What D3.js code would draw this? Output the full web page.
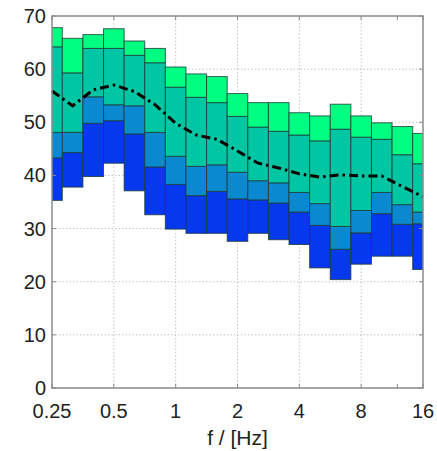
<!DOCTYPE html>
<html>
<head>
<meta charset="utf-8">
<script src="https://cdn.jsdelivr.net/npm/d3@7"></script>
<style>
  body { margin: 0; background: #fff; }
  text { font-family: "Liberation Sans", Arial, sans-serif; fill: #222; }
</style>
</head>
<body>
<svg id="chart" width="437" height="451"></svg>
<script>
// third-octave bin index k -> centre frequency 0.25 * 2^(k/3)
var binIndex = d3.range(19);
// band boundaries per bin (bottom .. top)
var pLow  = [35.3, 37.8, 39.8, 42.3, 37.1, 32.6, 29.9, 29.1, 29.1, 27.6, 29.1, 27.9, 27.0, 22.6, 20.4, 23.3, 24.8, 24.8, 22.3];
var pQ1   = [43.3, 44.3, 49.8, 50.3, 47.8, 41.6, 38.3, 36.2, 37.0, 35.6, 35.4, 34.8, 33.1, 30.6, 26.1, 29.2, 32.8, 30.8, 30.9];
var pQ2   = [48.1, 48.1, 54.8, 53.3, 53.1, 48.1, 43.6, 41.7, 42.0, 40.6, 39.0, 38.6, 36.8, 34.7, 30.4, 33.4, 36.8, 34.5, 33.1];
var pQ3   = [64.2, 59.3, 63.9, 63.9, 62.6, 61.2, 56.6, 54.7, 53.7, 51.1, 49.1, 48.3, 47.6, 46.5, 48.7, 47.2, 46.8, 43.9, 42.2];
var pHigh = [67.8, 65.8, 66.5, 67.6, 65.3, 63.9, 60.4, 59.1, 58.6, 55.4, 53.7, 53.7, 51.8, 51.2, 53.4, 51.2, 49.9, 49.2, 47.9];
var median = [55.9, 53.1, 56.1, 57.0, 55.8, 53.3, 49.8, 47.6, 46.8, 44.6, 42.3, 41.4, 40.3, 39.7, 40.1, 39.9, 39.9, 37.9, 36.0];

var bandColors = ["#0638ee", "#0a88d0", "#00c6a4", "#00ff80"];
var xTicks = [0.25, 0.5, 1, 2, 4, 8, 16];
var yTicks = [0, 10, 20, 30, 40, 50, 60, 70];

var plotL = 52, plotT = 16, plotR = 423, plotB = 388;

var svg = d3.select("#chart");

var x = d3.scaleLog().base(2).domain([0.25, 16]).range([plotL, plotR]);
var y = d3.scaleLinear().domain([0, 70]).range([plotB, plotT]);

function fc(k) { return 0.25 * Math.pow(2, k / 3); }

// grid
svg.append("g").selectAll("line")
    .data(xTicks.slice(1, -1))
    .enter().append("line")
    .attr("x1", d => x(d)).attr("x2", d => x(d))
    .attr("y1", plotT).attr("y2", plotB)
    .attr("stroke", "#c4c4c4").attr("stroke-width", 1)
    .attr("stroke-dasharray", "1.5,2");
svg.append("g").selectAll("line")
    .data(yTicks.slice(1, -1))
    .enter().append("line")
    .attr("x1", plotL).attr("x2", plotR)
    .attr("y1", d => y(d)).attr("y2", d => y(d))
    .attr("stroke", "#c4c4c4").attr("stroke-width", 1)
    .attr("stroke-dasharray", "1.5,2");

// bars
svg.append("clipPath").attr("id", "plotclip")
    .append("rect").attr("x", plotL).attr("y", plotT)
    .attr("width", plotR - plotL).attr("height", plotB - plotT);

var bars = svg.append("g").attr("clip-path", "url(#plotclip)");
binIndex.forEach(function(k) {
    var bounds = [pLow[k], pQ1[k], pQ2[k], pQ3[k], pHigh[k]];
    var x0 = x(0.25 * Math.pow(2, (k - 0.5) / 3));
    var x1 = x(0.25 * Math.pow(2, (k + 0.5) / 3));
    for (var b = 0; b < 4; b++) {
        bars.append("rect")
            .attr("x", x0)
            .attr("width", x1 - x0)
            .attr("y", y(bounds[b + 1]))
            .attr("height", y(bounds[b]) - y(bounds[b + 1]))
            .attr("fill", bandColors[b])
            .attr("stroke", "#1d3a3a")
            .attr("stroke-opacity", 0.8)
            .attr("stroke-width", 1);
    }
});

// median line
svg.append("path")
    .datum(binIndex)
    .attr("fill", "none")
    .attr("stroke", "#000")
    .attr("stroke-width", 3)
    .attr("stroke-dasharray", "9,4,2.5,4")
    .attr("d", d3.line()
        .x(k => x(fc(k)))
        .y(k => y(median[k])));

// frame
svg.append("rect")
    .attr("x", plotL).attr("y", plotT)
    .attr("width", plotR - plotL).attr("height", plotB - plotT)
    .attr("fill", "none").attr("stroke", "#8a8a8a").attr("stroke-width", 1.5);

// inner ticks
var tk = svg.append("g").attr("stroke", "#8a8a8a").attr("stroke-width", 1);
xTicks.concat([12]).forEach(function(t) {
    tk.append("line").attr("x1", x(t)).attr("x2", x(t)).attr("y1", plotB).attr("y2", plotB - 4);
    tk.append("line").attr("x1", x(t)).attr("x2", x(t)).attr("y1", plotT).attr("y2", plotT + 4);
});
yTicks.forEach(function(t) {
    tk.append("line").attr("x1", plotL).attr("x2", plotL + 4).attr("y1", y(t)).attr("y2", y(t));
    tk.append("line").attr("x1", plotR).attr("x2", plotR - 4).attr("y1", y(t)).attr("y2", y(t));
});

// tick labels
svg.append("g").selectAll("text")
    .data(yTicks)
    .enter().append("text")
    .attr("x", plotL - 6)
    .attr("y", d => y(d) + 7)
    .attr("text-anchor", "end")
    .attr("font-size", 20)
    .text(d => d);

svg.append("g").selectAll("text")
    .data(xTicks)
    .enter().append("text")
    .attr("x", d => x(d))
    .attr("y", plotB + 30)
    .attr("text-anchor", "middle")
    .attr("font-size", 20)
    .text(d => d);

svg.append("text")
    .attr("x", (plotL + plotR) / 2)
    .attr("y", 445)
    .attr("text-anchor", "middle")
    .attr("font-size", 21)
    .text("f / [Hz]");
</script>
</body>
</html>
